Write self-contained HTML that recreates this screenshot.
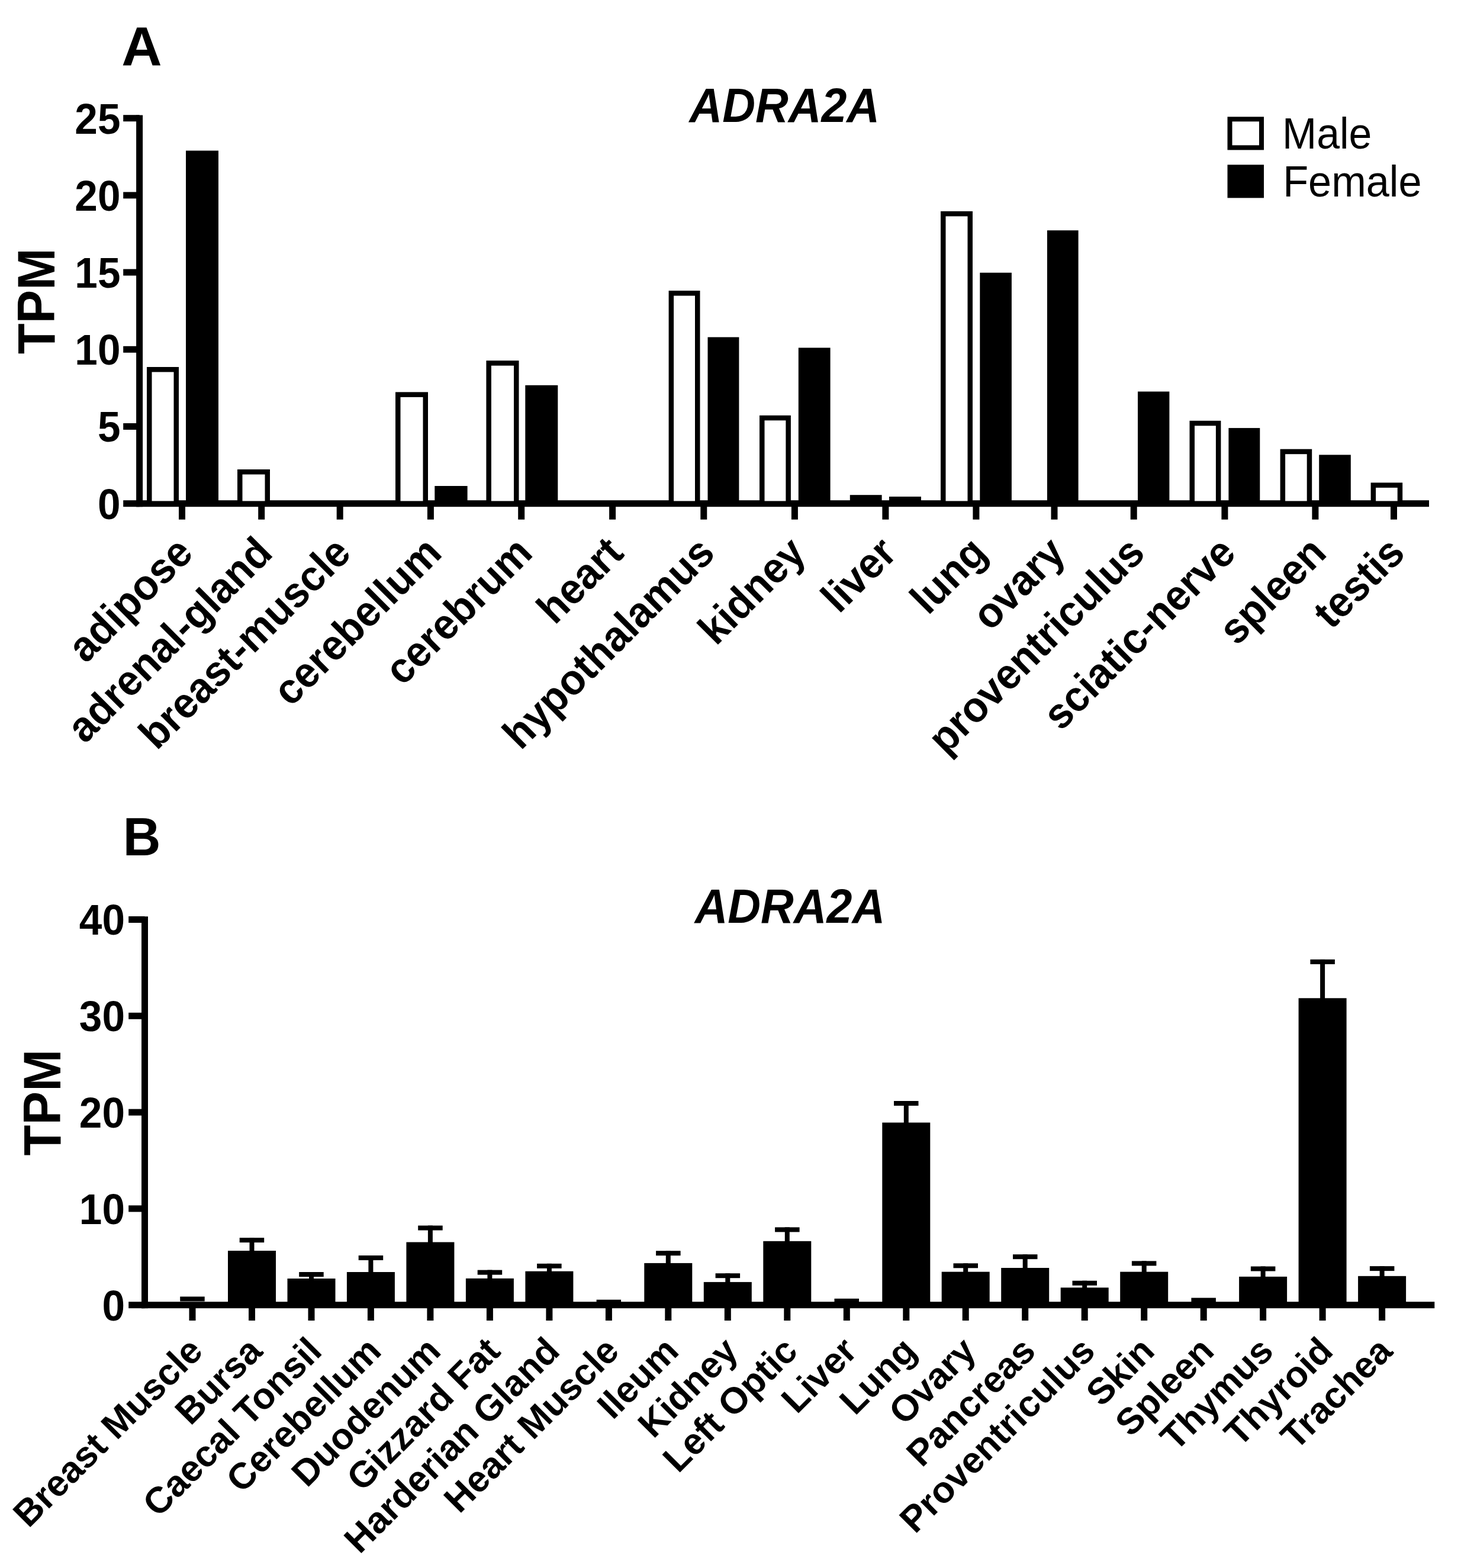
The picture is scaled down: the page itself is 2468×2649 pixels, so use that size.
<!DOCTYPE html>
<html><head><meta charset="utf-8"><title>ADRA2A expression</title>
<style>
html,body{margin:0;padding:0;background:#fff;}
svg{display:block;}
text{fill:#000;}
</style></head>
<body>
<svg width="2468" height="2649" viewBox="0 0 2468 2649">
<rect x="0" y="0" width="2468" height="2649" fill="#fff"/>
<rect x="230.1" y="194.5" width="11.0" height="661.7" fill="#000"/>
<rect x="208.2" y="845.2" width="27.4" height="11.0" fill="#000"/>
<rect x="208.2" y="715.0" width="27.4" height="11.0" fill="#000"/>
<rect x="208.2" y="584.8" width="27.4" height="11.0" fill="#000"/>
<rect x="208.2" y="454.6" width="27.4" height="11.0" fill="#000"/>
<rect x="208.2" y="324.4" width="27.4" height="11.0" fill="#000"/>
<rect x="208.2" y="194.2" width="27.4" height="11.0" fill="#000"/>
<rect x="230.1" y="845.2" width="2183.9" height="11.0" fill="#000"/>
<rect x="302.0" y="850.7" width="11.0" height="27.0" fill="#000"/>
<rect x="436.2" y="850.7" width="11.0" height="27.0" fill="#000"/>
<rect x="568.7" y="850.7" width="11.0" height="27.0" fill="#000"/>
<rect x="721.9" y="850.7" width="11.0" height="27.0" fill="#000"/>
<rect x="875.2" y="850.7" width="11.0" height="27.0" fill="#000"/>
<rect x="1029.1" y="850.7" width="11.0" height="27.0" fill="#000"/>
<rect x="1183.3" y="850.7" width="11.0" height="27.0" fill="#000"/>
<rect x="1336.9" y="850.7" width="11.0" height="27.0" fill="#000"/>
<rect x="1490.4" y="850.7" width="11.0" height="27.0" fill="#000"/>
<rect x="1643.4" y="850.7" width="11.0" height="27.0" fill="#000"/>
<rect x="1775.5" y="850.7" width="11.0" height="27.0" fill="#000"/>
<rect x="1909.7" y="850.7" width="11.0" height="27.0" fill="#000"/>
<rect x="2063.4" y="850.7" width="11.0" height="27.0" fill="#000"/>
<rect x="2216.4" y="850.7" width="11.0" height="27.0" fill="#000"/>
<rect x="2349.0" y="850.7" width="11.0" height="27.0" fill="#000"/>
<rect x="252.25" y="624.25" width="45.50" height="226.45" fill="#fff" stroke="#000" stroke-width="8.5"/>
<rect x="314.0" y="254.5" width="55.0" height="596.2" fill="#000"/>
<rect x="405.25" y="797.25" width="46.50" height="53.45" fill="#fff" stroke="#000" stroke-width="8.5"/>
<rect x="672.25" y="666.65" width="46.50" height="184.05" fill="#fff" stroke="#000" stroke-width="8.5"/>
<rect x="734.3" y="821.0" width="55.3" height="29.7" fill="#000"/>
<rect x="825.65" y="613.45" width="46.60" height="237.25" fill="#fff" stroke="#000" stroke-width="8.5"/>
<rect x="887.3" y="650.8" width="55.0" height="199.9" fill="#000"/>
<rect x="1133.85" y="495.35" width="44.40" height="355.35" fill="#fff" stroke="#000" stroke-width="8.5"/>
<rect x="1195.5" y="569.6" width="52.9" height="281.1" fill="#000"/>
<rect x="1287.25" y="706.05" width="44.40" height="144.65" fill="#fff" stroke="#000" stroke-width="8.5"/>
<rect x="1348.8" y="587.5" width="53.8" height="263.2" fill="#000"/>
<rect x="1435.8" y="836.2" width="53.8" height="14.5" fill="#000"/>
<rect x="1502.0" y="839.0" width="54.0" height="11.7" fill="#000"/>
<rect x="1593.25" y="361.15" width="45.50" height="489.55" fill="#fff" stroke="#000" stroke-width="8.5"/>
<rect x="1655.3" y="460.7" width="53.6" height="390.0" fill="#000"/>
<rect x="1768.9" y="389.2" width="52.7" height="461.5" fill="#000"/>
<rect x="1922.0" y="661.5" width="53.4" height="189.2" fill="#000"/>
<rect x="2013.75" y="715.05" width="44.40" height="135.65" fill="#fff" stroke="#000" stroke-width="8.5"/>
<rect x="2075.4" y="723.1" width="52.9" height="127.6" fill="#000"/>
<rect x="2166.85" y="762.95" width="45.10" height="87.75" fill="#fff" stroke="#000" stroke-width="8.5"/>
<rect x="2228.2" y="768.4" width="53.6" height="82.3" fill="#000"/>
<rect x="2319.85" y="819.65" width="45.10" height="31.05" fill="#fff" stroke="#000" stroke-width="8.5"/>
<rect x="2077.5" y="201.3" width="53.5" height="48.1" fill="#fff" stroke="#000" stroke-width="8"/>
<rect x="2073.5" y="278.3" width="61.5" height="56.1" fill="#000"/>
<rect x="239.0" y="1548.3" width="11.0" height="661.9" fill="#000"/>
<rect x="217.2" y="2199.2" width="27.3" height="11.0" fill="#000"/>
<rect x="217.2" y="2036.4" width="27.3" height="11.0" fill="#000"/>
<rect x="217.2" y="1873.6" width="27.3" height="11.0" fill="#000"/>
<rect x="217.2" y="1710.8" width="27.3" height="11.0" fill="#000"/>
<rect x="217.2" y="1548.0" width="27.3" height="11.0" fill="#000"/>
<rect x="239.0" y="2199.2" width="2184.3" height="11.0" fill="#000"/>
<rect x="319.5" y="2204.7" width="11.0" height="26.3" fill="#000"/>
<rect x="304.2" y="2190.5" width="41.5" height="8.0" fill="#000"/>
<rect x="420.0" y="2204.7" width="11.0" height="26.3" fill="#000"/>
<rect x="385.0" y="2113.0" width="81.0" height="91.7" fill="#000"/>
<rect x="421.5" y="2091.1" width="8.0" height="22.9" fill="#000"/>
<rect x="404.7" y="2091.1" width="41.5" height="8.0" fill="#000"/>
<rect x="520.5" y="2204.7" width="11.0" height="26.3" fill="#000"/>
<rect x="485.5" y="2160.0" width="81.0" height="44.7" fill="#000"/>
<rect x="522.0" y="2149.0" width="8.0" height="12.0" fill="#000"/>
<rect x="505.2" y="2149.0" width="41.5" height="8.0" fill="#000"/>
<rect x="620.9" y="2204.7" width="11.0" height="26.3" fill="#000"/>
<rect x="585.9" y="2149.0" width="81.0" height="55.7" fill="#000"/>
<rect x="622.4" y="2121.0" width="8.0" height="29.0" fill="#000"/>
<rect x="605.7" y="2121.0" width="41.5" height="8.0" fill="#000"/>
<rect x="721.4" y="2204.7" width="11.0" height="26.3" fill="#000"/>
<rect x="686.4" y="2098.5" width="81.0" height="106.2" fill="#000"/>
<rect x="722.9" y="2070.5" width="8.0" height="29.0" fill="#000"/>
<rect x="706.2" y="2070.5" width="41.5" height="8.0" fill="#000"/>
<rect x="821.9" y="2204.7" width="11.0" height="26.3" fill="#000"/>
<rect x="786.9" y="2159.8" width="81.0" height="44.9" fill="#000"/>
<rect x="823.4" y="2145.6" width="8.0" height="15.2" fill="#000"/>
<rect x="806.7" y="2145.6" width="41.5" height="8.0" fill="#000"/>
<rect x="922.4" y="2204.7" width="11.0" height="26.3" fill="#000"/>
<rect x="887.4" y="2147.7" width="81.0" height="57.0" fill="#000"/>
<rect x="923.9" y="2134.8" width="8.0" height="13.9" fill="#000"/>
<rect x="907.1" y="2134.8" width="41.5" height="8.0" fill="#000"/>
<rect x="1022.9" y="2204.7" width="11.0" height="26.3" fill="#000"/>
<rect x="1007.6" y="2195.7" width="41.5" height="8.0" fill="#000"/>
<rect x="1123.3" y="2204.7" width="11.0" height="26.3" fill="#000"/>
<rect x="1088.3" y="2133.9" width="81.0" height="70.8" fill="#000"/>
<rect x="1124.8" y="2113.2" width="8.0" height="21.7" fill="#000"/>
<rect x="1108.1" y="2113.2" width="41.5" height="8.0" fill="#000"/>
<rect x="1223.8" y="2204.7" width="11.0" height="26.3" fill="#000"/>
<rect x="1188.8" y="2165.9" width="81.0" height="38.8" fill="#000"/>
<rect x="1225.3" y="2151.2" width="8.0" height="15.7" fill="#000"/>
<rect x="1208.6" y="2151.2" width="41.5" height="8.0" fill="#000"/>
<rect x="1324.3" y="2204.7" width="11.0" height="26.3" fill="#000"/>
<rect x="1289.3" y="2096.8" width="81.0" height="107.9" fill="#000"/>
<rect x="1325.8" y="2073.4" width="8.0" height="24.4" fill="#000"/>
<rect x="1309.1" y="2073.4" width="41.5" height="8.0" fill="#000"/>
<rect x="1424.8" y="2204.7" width="11.0" height="26.3" fill="#000"/>
<rect x="1409.5" y="2193.9" width="41.5" height="8.0" fill="#000"/>
<rect x="1525.3" y="2204.7" width="11.0" height="26.3" fill="#000"/>
<rect x="1490.3" y="1896.5" width="81.0" height="308.2" fill="#000"/>
<rect x="1526.8" y="1860.0" width="8.0" height="37.5" fill="#000"/>
<rect x="1510.0" y="1860.0" width="41.5" height="8.0" fill="#000"/>
<rect x="1625.7" y="2204.7" width="11.0" height="26.3" fill="#000"/>
<rect x="1590.7" y="2148.6" width="81.0" height="56.1" fill="#000"/>
<rect x="1627.2" y="2134.3" width="8.0" height="15.3" fill="#000"/>
<rect x="1610.5" y="2134.3" width="41.5" height="8.0" fill="#000"/>
<rect x="1726.2" y="2204.7" width="11.0" height="26.3" fill="#000"/>
<rect x="1691.2" y="2142.0" width="81.0" height="62.7" fill="#000"/>
<rect x="1727.7" y="2119.2" width="8.0" height="23.8" fill="#000"/>
<rect x="1711.0" y="2119.2" width="41.5" height="8.0" fill="#000"/>
<rect x="1826.7" y="2204.7" width="11.0" height="26.3" fill="#000"/>
<rect x="1791.7" y="2175.3" width="81.0" height="29.4" fill="#000"/>
<rect x="1828.2" y="2163.7" width="8.0" height="12.6" fill="#000"/>
<rect x="1811.5" y="2163.7" width="41.5" height="8.0" fill="#000"/>
<rect x="1927.2" y="2204.7" width="11.0" height="26.3" fill="#000"/>
<rect x="1892.2" y="2148.6" width="81.0" height="56.1" fill="#000"/>
<rect x="1928.7" y="2130.4" width="8.0" height="19.2" fill="#000"/>
<rect x="1911.9" y="2130.4" width="41.5" height="8.0" fill="#000"/>
<rect x="2027.7" y="2204.7" width="11.0" height="26.3" fill="#000"/>
<rect x="2012.4" y="2192.6" width="41.5" height="8.0" fill="#000"/>
<rect x="2128.1" y="2204.7" width="11.0" height="26.3" fill="#000"/>
<rect x="2093.1" y="2156.8" width="81.0" height="47.9" fill="#000"/>
<rect x="2129.6" y="2139.5" width="8.0" height="18.3" fill="#000"/>
<rect x="2112.9" y="2139.5" width="41.5" height="8.0" fill="#000"/>
<rect x="2228.6" y="2204.7" width="11.0" height="26.3" fill="#000"/>
<rect x="2193.6" y="1686.3" width="81.0" height="518.4" fill="#000"/>
<rect x="2230.1" y="1620.9" width="8.0" height="66.4" fill="#000"/>
<rect x="2213.4" y="1620.9" width="41.5" height="8.0" fill="#000"/>
<rect x="2329.1" y="2204.7" width="11.0" height="26.3" fill="#000"/>
<rect x="2294.1" y="2155.8" width="81.0" height="48.9" fill="#000"/>
<rect x="2330.6" y="2139.1" width="8.0" height="17.7" fill="#000"/>
<rect x="2313.9" y="2139.1" width="41.5" height="8.0" fill="#000"/>
<text x="0" y="0" font-size="92.14" text-anchor="start" transform="translate(205.36,109.80) scale(1.0277,1)" style="font-family:'Liberation Sans',Arial,sans-serif;font-weight:bold">A</text>
<text x="0" y="0" font-size="91.16" text-anchor="start" transform="translate(207.83,1445.00) scale(0.9675,1)" style="font-family:'Liberation Sans',Arial,sans-serif;font-weight:bold">B</text>
<text x="0" y="0" font-size="81.43" text-anchor="start" transform="translate(1164.44,205.70) scale(0.9481,1)" style="font-family:'Liberation Sans',Arial,sans-serif;font-weight:bold;font-style:italic">ADRA2A</text>
<text x="0" y="0" font-size="81.29" text-anchor="start" transform="translate(1173.64,1559.30) scale(0.9495,1)" style="font-family:'Liberation Sans',Arial,sans-serif;font-weight:bold;font-style:italic">ADRA2A</text>
<text x="0" y="0" font-size="88.14" text-anchor="start" transform="translate(91.62,598.35) rotate(-90) scale(0.9629,1)" style="font-family:'Liberation Sans',Arial,sans-serif;font-weight:bold">TPM</text>
<text x="0" y="0" font-size="89.00" text-anchor="start" transform="translate(101.51,1952.55) rotate(-90) scale(0.9570,1)" style="font-family:'Liberation Sans',Arial,sans-serif;font-weight:bold">TPM</text>
<text x="0" y="0" font-size="73.77" text-anchor="start" transform="translate(2166.12,250.90) scale(0.9456,1)" style="font-family:'Liberation Sans',Arial,sans-serif">Male</text>
<text x="0" y="0" font-size="73.62" text-anchor="start" transform="translate(2167.18,331.80) scale(0.9550,1)" style="font-family:'Liberation Sans',Arial,sans-serif">Female</text>
<text x="0" y="0" font-size="71.50" text-anchor="end" transform="translate(203.50,876.50) scale(0.97,1)" style="font-family:'Liberation Sans',Arial,sans-serif;font-weight:bold">0</text>
<text x="0" y="0" font-size="71.50" text-anchor="end" transform="translate(203.50,746.30) scale(0.97,1)" style="font-family:'Liberation Sans',Arial,sans-serif;font-weight:bold">5</text>
<text x="0" y="0" font-size="71.50" text-anchor="end" transform="translate(203.50,616.10) scale(0.97,1)" style="font-family:'Liberation Sans',Arial,sans-serif;font-weight:bold">10</text>
<text x="0" y="0" font-size="71.50" text-anchor="end" transform="translate(203.50,485.90) scale(0.97,1)" style="font-family:'Liberation Sans',Arial,sans-serif;font-weight:bold">15</text>
<text x="0" y="0" font-size="71.50" text-anchor="end" transform="translate(203.50,355.70) scale(0.97,1)" style="font-family:'Liberation Sans',Arial,sans-serif;font-weight:bold">20</text>
<text x="0" y="0" font-size="71.50" text-anchor="end" transform="translate(203.50,225.50) scale(0.97,1)" style="font-family:'Liberation Sans',Arial,sans-serif;font-weight:bold">25</text>
<text x="0" y="0" font-size="71.50" text-anchor="end" transform="translate(211.00,2230.50) scale(0.97,1)" style="font-family:'Liberation Sans',Arial,sans-serif;font-weight:bold">0</text>
<text x="0" y="0" font-size="71.50" text-anchor="end" transform="translate(211.00,2067.70) scale(0.97,1)" style="font-family:'Liberation Sans',Arial,sans-serif;font-weight:bold">10</text>
<text x="0" y="0" font-size="71.50" text-anchor="end" transform="translate(211.00,1904.90) scale(0.97,1)" style="font-family:'Liberation Sans',Arial,sans-serif;font-weight:bold">20</text>
<text x="0" y="0" font-size="71.50" text-anchor="end" transform="translate(211.00,1742.10) scale(0.97,1)" style="font-family:'Liberation Sans',Arial,sans-serif;font-weight:bold">30</text>
<text x="0" y="0" font-size="71.50" text-anchor="end" transform="translate(211.00,1579.30) scale(0.97,1)" style="font-family:'Liberation Sans',Arial,sans-serif;font-weight:bold">40</text>
<text x="0" y="0" font-size="72.00" text-anchor="end" transform="translate(329.5,937.7) rotate(-45) scale(0.96,1)" style="font-family:'Liberation Sans',Arial,sans-serif;font-weight:bold">adipose</text>
<text x="0" y="0" font-size="72.00" text-anchor="end" transform="translate(463.7,937.7) rotate(-45) scale(0.96,1)" style="font-family:'Liberation Sans',Arial,sans-serif;font-weight:bold">adrenal-gland</text>
<text x="0" y="0" font-size="72.00" text-anchor="end" transform="translate(596.2,937.7) rotate(-45) scale(0.96,1)" style="font-family:'Liberation Sans',Arial,sans-serif;font-weight:bold">breast-muscle</text>
<text x="0" y="0" font-size="72.00" text-anchor="end" transform="translate(749.4,937.7) rotate(-45) scale(0.96,1)" style="font-family:'Liberation Sans',Arial,sans-serif;font-weight:bold">cerebellum</text>
<text x="0" y="0" font-size="72.00" text-anchor="end" transform="translate(902.7,937.7) rotate(-45) scale(0.96,1)" style="font-family:'Liberation Sans',Arial,sans-serif;font-weight:bold">cerebrum</text>
<text x="0" y="0" font-size="72.00" text-anchor="end" transform="translate(1056.6,937.7) rotate(-45) scale(0.96,1)" style="font-family:'Liberation Sans',Arial,sans-serif;font-weight:bold">heart</text>
<text x="0" y="0" font-size="72.00" text-anchor="end" transform="translate(1210.8,937.7) rotate(-45) scale(0.96,1)" style="font-family:'Liberation Sans',Arial,sans-serif;font-weight:bold">hypothalamus</text>
<text x="0" y="0" font-size="72.00" text-anchor="end" transform="translate(1364.4,937.7) rotate(-45) scale(0.96,1)" style="font-family:'Liberation Sans',Arial,sans-serif;font-weight:bold">kidney</text>
<text x="0" y="0" font-size="72.00" text-anchor="end" transform="translate(1517.9,937.7) rotate(-45) scale(0.96,1)" style="font-family:'Liberation Sans',Arial,sans-serif;font-weight:bold">liver</text>
<text x="0" y="0" font-size="72.00" text-anchor="end" transform="translate(1670.9,937.7) rotate(-45) scale(0.96,1)" style="font-family:'Liberation Sans',Arial,sans-serif;font-weight:bold">lung</text>
<text x="0" y="0" font-size="72.00" text-anchor="end" transform="translate(1803.0,937.7) rotate(-45) scale(0.96,1)" style="font-family:'Liberation Sans',Arial,sans-serif;font-weight:bold">ovary</text>
<text x="0" y="0" font-size="72.00" text-anchor="end" transform="translate(1937.2,937.7) rotate(-45) scale(0.96,1)" style="font-family:'Liberation Sans',Arial,sans-serif;font-weight:bold">proventriculus</text>
<text x="0" y="0" font-size="72.00" text-anchor="end" transform="translate(2090.9,937.7) rotate(-45) scale(0.96,1)" style="font-family:'Liberation Sans',Arial,sans-serif;font-weight:bold">sciatic-nerve</text>
<text x="0" y="0" font-size="72.00" text-anchor="end" transform="translate(2243.9,937.7) rotate(-45) scale(0.96,1)" style="font-family:'Liberation Sans',Arial,sans-serif;font-weight:bold">spleen</text>
<text x="0" y="0" font-size="72.00" text-anchor="end" transform="translate(2376.5,937.7) rotate(-45) scale(0.96,1)" style="font-family:'Liberation Sans',Arial,sans-serif;font-weight:bold">testis</text>
<text x="0" y="0" font-size="62.00" text-anchor="end" transform="translate(345.6,2285.8) rotate(-45) scale(1.0,1)" style="font-family:'Liberation Sans',Arial,sans-serif;font-weight:bold">Breast Muscle</text>
<text x="0" y="0" font-size="62.00" text-anchor="end" transform="translate(446.1,2285.8) rotate(-45) scale(1.0,1)" style="font-family:'Liberation Sans',Arial,sans-serif;font-weight:bold">Bursa</text>
<text x="0" y="0" font-size="62.00" text-anchor="end" transform="translate(546.6,2285.8) rotate(-45) scale(1.0,1)" style="font-family:'Liberation Sans',Arial,sans-serif;font-weight:bold">Caecal Tonsil</text>
<text x="0" y="0" font-size="62.00" text-anchor="end" transform="translate(647.0,2285.8) rotate(-45) scale(1.0,1)" style="font-family:'Liberation Sans',Arial,sans-serif;font-weight:bold">Cerebellum</text>
<text x="0" y="0" font-size="62.00" text-anchor="end" transform="translate(747.5,2285.8) rotate(-45) scale(1.0,1)" style="font-family:'Liberation Sans',Arial,sans-serif;font-weight:bold">Duodenum</text>
<text x="0" y="0" font-size="62.00" text-anchor="end" transform="translate(848.0,2285.8) rotate(-45) scale(1.0,1)" style="font-family:'Liberation Sans',Arial,sans-serif;font-weight:bold">Gizzard Fat</text>
<text x="0" y="0" font-size="62.00" text-anchor="end" transform="translate(948.5,2285.8) rotate(-45) scale(1.0,1)" style="font-family:'Liberation Sans',Arial,sans-serif;font-weight:bold">Harderian Gland</text>
<text x="0" y="0" font-size="62.00" text-anchor="end" transform="translate(1049.0,2285.8) rotate(-45) scale(1.0,1)" style="font-family:'Liberation Sans',Arial,sans-serif;font-weight:bold">Heart Muscle</text>
<text x="0" y="0" font-size="62.00" text-anchor="end" transform="translate(1149.4,2285.8) rotate(-45) scale(1.0,1)" style="font-family:'Liberation Sans',Arial,sans-serif;font-weight:bold">Ileum</text>
<text x="0" y="0" font-size="62.00" text-anchor="end" transform="translate(1249.9,2285.8) rotate(-45) scale(1.0,1)" style="font-family:'Liberation Sans',Arial,sans-serif;font-weight:bold">Kidney</text>
<text x="0" y="0" font-size="62.00" text-anchor="end" transform="translate(1350.4,2285.8) rotate(-45) scale(1.0,1)" style="font-family:'Liberation Sans',Arial,sans-serif;font-weight:bold">Left Optic</text>
<text x="0" y="0" font-size="62.00" text-anchor="end" transform="translate(1450.9,2285.8) rotate(-45) scale(1.0,1)" style="font-family:'Liberation Sans',Arial,sans-serif;font-weight:bold">Liver</text>
<text x="0" y="0" font-size="62.00" text-anchor="end" transform="translate(1551.4,2285.8) rotate(-45) scale(1.0,1)" style="font-family:'Liberation Sans',Arial,sans-serif;font-weight:bold">Lung</text>
<text x="0" y="0" font-size="62.00" text-anchor="end" transform="translate(1651.8,2285.8) rotate(-45) scale(1.0,1)" style="font-family:'Liberation Sans',Arial,sans-serif;font-weight:bold">Ovary</text>
<text x="0" y="0" font-size="62.00" text-anchor="end" transform="translate(1752.3,2285.8) rotate(-45) scale(1.0,1)" style="font-family:'Liberation Sans',Arial,sans-serif;font-weight:bold">Pancreas</text>
<text x="0" y="0" font-size="62.00" text-anchor="end" transform="translate(1852.8,2285.8) rotate(-45) scale(1.0,1)" style="font-family:'Liberation Sans',Arial,sans-serif;font-weight:bold">Proventriculus</text>
<text x="0" y="0" font-size="62.00" text-anchor="end" transform="translate(1953.3,2285.8) rotate(-45) scale(1.0,1)" style="font-family:'Liberation Sans',Arial,sans-serif;font-weight:bold">Skin</text>
<text x="0" y="0" font-size="62.00" text-anchor="end" transform="translate(2053.8,2285.8) rotate(-45) scale(1.0,1)" style="font-family:'Liberation Sans',Arial,sans-serif;font-weight:bold">Spleen</text>
<text x="0" y="0" font-size="62.00" text-anchor="end" transform="translate(2154.2,2285.8) rotate(-45) scale(1.0,1)" style="font-family:'Liberation Sans',Arial,sans-serif;font-weight:bold">Thymus</text>
<text x="0" y="0" font-size="62.00" text-anchor="end" transform="translate(2254.7,2285.8) rotate(-45) scale(1.0,1)" style="font-family:'Liberation Sans',Arial,sans-serif;font-weight:bold">Thyroid</text>
<text x="0" y="0" font-size="62.00" text-anchor="end" transform="translate(2355.2,2285.8) rotate(-45) scale(1.0,1)" style="font-family:'Liberation Sans',Arial,sans-serif;font-weight:bold">Trachea</text>
</svg>
</body></html>
